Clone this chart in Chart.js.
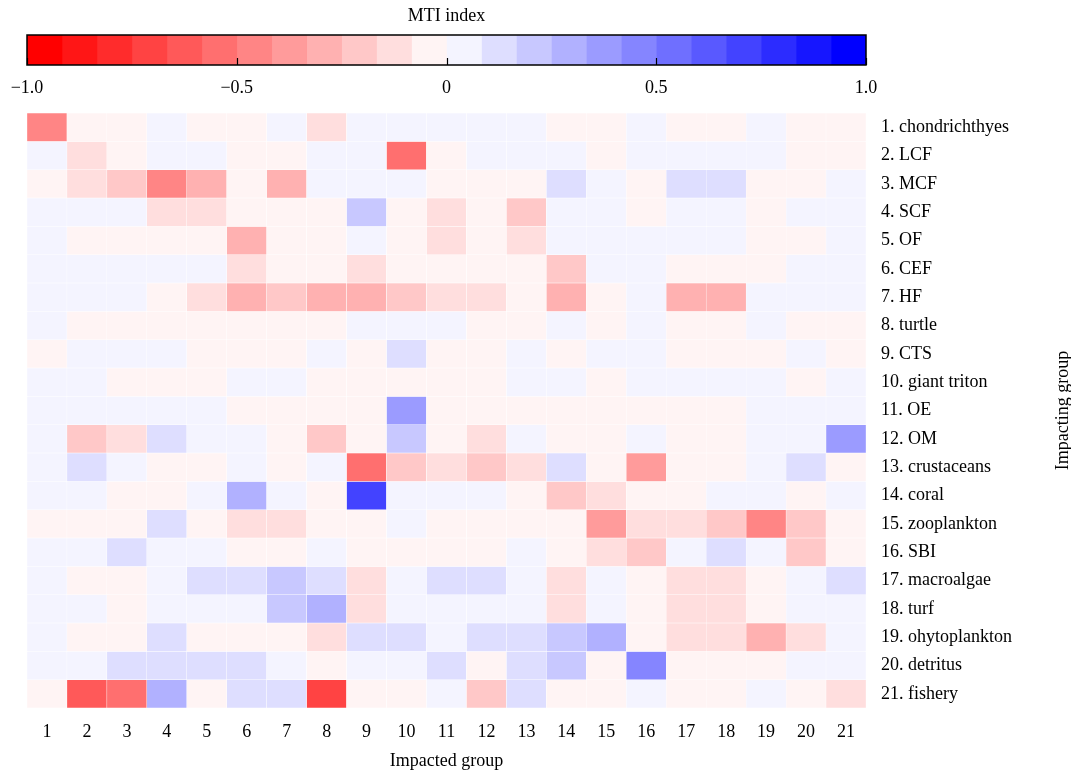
<!DOCTYPE html>
<html>
<head>
<meta charset="utf-8">
<script src="https://cdn.jsdelivr.net/npm/chart.js@4.4.1/dist/chart.umd.min.js"></script>
<style>
  html, body { margin: 0; padding: 0; background: #fff; }
  #wrap { position: relative; width: 1071px; height: 773px; }
  #main { position: absolute; left: 0; top: 0; }
  #cbar { position: absolute; left: 0; top: 0; pointer-events: none; }
</style>
</head>
<body>
<div id="wrap">
  <canvas id="main" width="1071" height="773"></canvas>
  <canvas id="cbar" width="1071" height="110"></canvas>
</div>
<script>
// ---------------- DATA ----------------
const impactedGroups = ['1','2','3','4','5','6','7','8','9','10','11','12','13','14','15','16','17','18','19','20','21'];

const impactingGroups = [
  '1. chondrichthyes', '2. LCF', '3. MCF', '4. SCF', '5. OF', '6. CEF', '7. HF',
  '8. turtle', '9. CTS', '10. giant triton', '11. OE', '12. OM', '13. crustaceans',
  '14. coral', '15. zooplankton', '16. SBI', '17. macroalgae', '18. turf',
  '19. ohytoplankton', '20. detritus', '21. fishery'
];

// MTI index (rows = impacting group, columns = impacted group)
const mtiValues = [
  [-0.45,-0.04,-0.04,0.04,-0.04,-0.04,0.04,-0.12,0.04,0.04,0.04,0.04,0.04,-0.04,-0.04,0.04,-0.04,-0.04,0.04,-0.04,-0.04],
  [0.04,-0.12,-0.04,0.04,0.04,-0.04,-0.04,0.04,0.04,-0.54,-0.04,0.04,0.04,0.04,-0.04,0.04,0.04,0.04,0.04,-0.04,-0.04],
  [-0.04,-0.12,-0.21,-0.45,-0.29,-0.04,-0.29,0.04,0.04,0.04,-0.04,-0.04,-0.04,0.12,0.04,-0.04,0.12,0.12,-0.04,-0.04,0.04],
  [0.04,0.04,0.04,-0.12,-0.12,-0.04,-0.04,-0.04,0.21,-0.04,-0.12,-0.04,-0.21,0.04,0.04,-0.04,0.04,0.04,-0.04,0.04,0.04],
  [0.04,-0.04,-0.04,-0.04,-0.04,-0.29,-0.04,-0.04,0.04,-0.04,-0.12,-0.04,-0.12,0.04,0.04,0.04,0.04,0.04,-0.04,-0.04,0.04],
  [0.04,0.04,0.04,0.04,0.04,-0.12,-0.04,-0.04,-0.12,-0.04,-0.04,-0.04,-0.04,-0.21,0.04,0.04,-0.04,-0.04,-0.04,0.04,0.04],
  [0.04,0.04,0.04,-0.04,-0.12,-0.29,-0.21,-0.29,-0.29,-0.21,-0.12,-0.12,-0.04,-0.29,-0.04,0.04,-0.29,-0.29,0.04,0.04,0.04],
  [0.04,-0.04,-0.04,-0.04,-0.04,-0.04,-0.04,-0.04,0.04,0.04,0.04,-0.04,-0.04,0.04,-0.04,0.04,-0.04,-0.04,0.04,-0.04,-0.04],
  [-0.04,0.04,0.04,0.04,-0.04,-0.04,-0.04,0.04,-0.04,0.12,-0.04,-0.04,0.04,-0.04,0.04,0.04,-0.04,-0.04,-0.04,0.04,-0.04],
  [0.04,0.04,-0.04,-0.04,-0.04,0.04,0.04,-0.04,-0.04,-0.04,-0.04,-0.04,0.04,0.04,-0.04,0.04,0.04,0.04,0.04,-0.04,0.04],
  [0.04,0.04,0.04,0.04,0.04,-0.04,-0.04,-0.04,-0.04,0.37,-0.04,-0.04,-0.04,-0.04,-0.04,-0.04,-0.04,-0.04,0.04,0.04,0.04],
  [0.04,-0.21,-0.12,0.12,0.04,0.04,-0.04,-0.21,-0.04,0.21,-0.04,-0.12,0.04,-0.04,-0.04,0.04,-0.04,-0.04,0.04,0.04,0.37],
  [0.04,0.12,0.04,-0.04,-0.04,0.04,-0.04,0.04,-0.54,-0.21,-0.12,-0.21,-0.12,0.12,-0.04,-0.37,-0.04,-0.04,0.04,0.12,-0.04],
  [0.04,0.04,-0.04,-0.04,0.04,0.29,0.04,-0.04,0.70,0.04,0.04,0.04,-0.04,-0.21,-0.12,-0.04,-0.04,0.04,0.04,-0.04,0.04],
  [-0.04,-0.04,-0.04,0.12,-0.04,-0.12,-0.12,-0.04,-0.04,0.04,-0.04,-0.04,-0.04,-0.04,-0.37,-0.12,-0.12,-0.21,-0.45,-0.21,-0.04],
  [0.04,0.04,0.12,0.04,0.04,-0.04,-0.04,0.04,-0.04,-0.04,-0.04,-0.04,0.04,-0.04,-0.12,-0.21,0.04,0.12,0.04,-0.21,-0.04],
  [0.04,-0.04,-0.04,0.04,0.12,0.12,0.21,0.12,-0.12,0.04,0.12,0.12,0.04,-0.12,0.04,-0.04,-0.12,-0.12,-0.04,0.04,0.12],
  [0.04,0.04,-0.04,0.04,0.04,0.04,0.21,0.29,-0.12,0.04,0.04,0.04,0.04,-0.12,0.04,-0.04,-0.12,-0.12,-0.04,0.04,0.04],
  [0.04,-0.04,-0.04,0.12,-0.04,-0.04,-0.04,-0.12,0.12,0.12,0.04,0.12,0.12,0.21,0.29,-0.04,-0.12,-0.12,-0.29,-0.12,0.04],
  [0.04,0.04,0.12,0.12,0.12,0.12,0.04,-0.04,0.04,0.04,0.12,-0.04,0.12,0.21,-0.04,0.45,-0.04,-0.04,-0.04,0.04,0.04],
  [-0.04,-0.62,-0.54,0.29,-0.04,0.12,0.12,-0.70,-0.04,-0.04,0.04,-0.21,0.12,-0.04,-0.04,0.04,-0.04,-0.04,0.04,-0.04,-0.12]
];

const colorbarTickValues = [-1, -0.5, 0, 0.5, 1];
const colorbarTickLabels = ['\u22121.0', '\u22120.5', '0', '0.5', '1.0'];
const colorLevels = 24;

// ---------------- COLOUR MAP (discrete red-white-blue) ----------------
function binColor(i) {
  const v = 2 * i / (colorLevels - 1) - 1;
  if (v < 0) {
    const c = Math.round(255 * (1 + v));
    return `rgb(255,${c},${c})`;
  }
  const c = Math.round(255 * (1 - v));
  return `rgb(${c},${c},255)`;
}
function valueColor(v) {
  const i = Math.min(colorLevels - 1, Math.max(0, Math.floor((v + 1) / 2 * colorLevels)));
  return binColor(i);
}

const FONT = '"Liberation Serif", "Times New Roman", serif';
const FS = 18;
Chart.defaults.font.family = FONT;
Chart.defaults.font.size = FS;
Chart.defaults.color = '#000';

// ---------------- HEATMAP ----------------
const heatDatasets = mtiValues.map((row, r) => ({
  label: impactingGroups[r],
  data: row.map(() => [r + 0.5, r + 1.5]),
  backgroundColor: row.map(valueColor),
  borderColor: '#ffffff',
  borderWidth: 0.5,
  borderSkipped: false,
  barPercentage: 1,
  categoryPercentage: 1,
  grouped: false
}));

const sideTitle = {
  id: 'sideTitle',
  afterDraw(chart) {
    const { ctx, chartArea } = chart;
    ctx.save();
    ctx.translate(1063, (chartArea.top + chartArea.bottom) / 2);
    ctx.rotate(-Math.PI / 2);
    ctx.font = FS + 'px ' + FONT;
    ctx.fillStyle = '#000';
    ctx.textAlign = 'center';
    ctx.textBaseline = 'middle';
    ctx.fillText('Impacting group', 0, 0);
    ctx.restore();
  }
};

new Chart(document.getElementById('main'), {
  type: 'bar',
  data: { labels: impactedGroups, datasets: heatDatasets },
  options: {
    responsive: false,
    animation: false,
    layout: { padding: { left: 27, top: 113, right: 0, bottom: 0 } },
    plugins: { legend: { display: false }, tooltip: { enabled: false }, title: { display: false } },
    scales: {
      x: {
        type: 'category',
        offset: true,
        grid: { display: false, drawTicks: false },
        border: { display: false },
        ticks: { padding: 13, maxRotation: 0, autoSkip: false },
        title: { display: true, text: 'Impacted group', padding: { top: 4, bottom: 1 } },
        afterFit(s) { s.height = 65; s.paddingLeft = 0; s.paddingRight = 0; }
      },
      y: {
        type: 'linear',
        position: 'right',
        reverse: true,
        min: 0.5,
        max: 21.5,
        grid: { display: false, drawTicks: false },
        border: { display: false },
        afterBuildTicks(s) { s.ticks = impactingGroups.map((_, i) => ({ value: i + 1 })); },
        ticks: { padding: 15, autoSkip: false, callback: (v) => impactingGroups[Math.round(v) - 1] },
        afterFit(s) { s.width = 205; }
      }
    }
  },
  plugins: [sideTitle]
});

// ---------------- COLOUR BAR ----------------
const cbEdges = Array.from({ length: colorLevels + 1 }, (_, i) => -1 + 2 * i / colorLevels);
const cbDatasets = cbEdges.slice(0, -1).map((lo, i) => ({
  data: [[lo, cbEdges[i + 1]]],
  backgroundColor: binColor(i),
  borderWidth: 0,
  barPercentage: 1,
  categoryPercentage: 1,
  grouped: false
}));

const cbFrame = {
  id: 'cbFrame',
  afterDraw(chart) {
    const { ctx, chartArea: a } = chart;
    const xs = chart.scales.x;
    ctx.save();
    ctx.strokeStyle = '#000';
    ctx.lineWidth = 1.2;
    ctx.beginPath();
    colorbarTickValues.forEach(v => {
      const px = Math.round(xs.getPixelForValue(v)) + 0.5;
      ctx.moveTo(px, a.bottom);
      ctx.lineTo(px, a.bottom - 7);
    });
    ctx.stroke();
    ctx.lineWidth = 1.5;
    ctx.strokeRect(a.left, a.top, a.right - a.left, a.bottom - a.top);
    ctx.restore();
  }
};

new Chart(document.getElementById('cbar'), {
  type: 'bar',
  data: { labels: ['MTI'], datasets: cbDatasets },
  options: {
    responsive: false,
    animation: false,
    indexAxis: 'y',
    layout: { padding: { left: 27, right: 205, top: 0, bottom: 0 } },
    plugins: {
      legend: { display: false },
      tooltip: { enabled: false },
      title: {
        display: true, text: 'MTI index', fullSize: false,
        font: { size: FS, weight: 'normal' }, color: '#000',
        padding: { top: 5, bottom: 8.4 }
      }
    },
    scales: {
      x: {
        type: 'linear', min: -1, max: 1, position: 'bottom',
        afterBuildTicks(s) { s.ticks = colorbarTickValues.map(v => ({ value: v })); },
        ticks: { padding: 12, maxRotation: 0, callback: (v, i) => colorbarTickLabels[i] },
        grid: { display: false, drawTicks: false },
        border: { display: false },
        afterFit(s) { s.height = 45; s.paddingLeft = 0; s.paddingRight = 0; }
      },
      y: { type: 'category', display: false }
    }
  },
  plugins: [cbFrame]
});
</script>
</body>
</html>
